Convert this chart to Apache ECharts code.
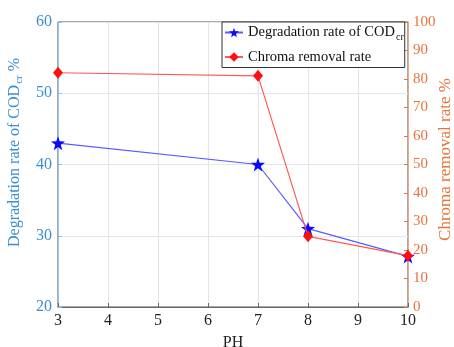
<!DOCTYPE html>
<html>
<head>
<meta charset="utf-8">
<script src="https://cdn.jsdelivr.net/npm/echarts@6/dist/echarts.min.js"></script>
<style>
  html, body { margin: 0; padding: 0; background: #fff; }
  #chart { width: 454px; height: 347px; }
</style>
</head>
<body>
<div id="chart"></div>
<script>
const phValues = [3, 7, 8, 10]
const codRate = [43, 40, 31, 27.1]
const chromaRate = [82.2, 81.1, 24.8, 18]
const xTicks = [3, 4, 5, 6, 7, 8, 9, 10]

const serif = 'Liberation Serif'
const leftColor = '#3b8ed0'
const rightColor = '#e8743b'

const chart = echarts.init(document.getElementById('chart'))

const option = {
  animation: false,
  textStyle: { fontFamily: serif },
  grid: {
    left: 58, right: 46, top: 22, bottom: 40,
    outerBoundsMode: 'none',
    containLabel: false,
    show: true, borderColor: '#555', borderWidth: 1
  },
  legend: {
    orient: 'vertical',
    left: 222, top: 22,
    itemGap: 7,
    itemWidth: 18, itemHeight: 12,
    padding: [3, 1, 3, 2],
    borderColor: '#333', borderWidth: 1,
    backgroundColor: '#fff',
    data: ['cod', 'chroma'],
    formatter: function (name) {
      return name === 'cod'
        ? '{m|Degradation rate of COD}{s|cr}'
        : '{m|Chroma removal rate}'
    },
    textStyle: {
      rich: {
        m: { fontFamily: serif, fontSize: 14.5, color: '#111' },
        s: { fontFamily: serif, fontSize: 10, color: '#111', padding: [10, 0, 0, 1] }
      }
    }
  },
  xAxis: {
    type: 'value',
    min: 3, max: 10, interval: 1,
    name: 'PH',
    nameLocation: 'middle',
    nameGap: 28,
    nameTextStyle: { fontFamily: serif, fontSize: 16, color: '#222' },
    axisLine: { lineStyle: { color: '#666' } },
    axisTick: { inside: true, length: 4, lineStyle: { color: '#666' } },
    axisLabel: {
      fontFamily: serif, fontSize: 16, color: '#222', margin: 6,
      customValues: xTicks
    },
    splitLine: { show: true, lineStyle: { color: '#e4e4e4' } }
  },
  yAxis: [
    {
      type: 'value',
      min: 20, max: 60, interval: 10,
      position: 'left',
      name: '{m|Degradation rate of COD}{s|cr}{m| %}',
      nameLocation: 'middle',
      nameGap: 32,
      nameTextStyle: {
        padding: [0, 0, 0, 24],
        rich: {
          m: { fontFamily: serif, fontSize: 16, color: leftColor },
          s: { fontFamily: serif, fontSize: 11, color: leftColor, padding: [10, 0, 0, 1] }
        }
      },
      axisLine: { show: true, lineStyle: { color: '#8ec2ea' } },
      axisTick: { show: true, inside: true, length: 4, lineStyle: { color: '#8ec2ea' } },
      axisLabel: { fontFamily: serif, fontSize: 16, color: leftColor, margin: 6 },
      splitLine: { show: true, lineStyle: { color: '#dbeaf6' } }
    },
    {
      type: 'value',
      min: 0, max: 100, interval: 10,
      position: 'right',
      name: 'Chroma removal rate %',
      nameLocation: 'middle',
      nameGap: 29,
      nameMoveOverlap: false,
      nameTextStyle: { fontFamily: serif, fontSize: 17, color: rightColor, padding: [0, 0, 0, 10] },
      axisLine: { show: true, lineStyle: { color: '#f0a585' } },
      axisTick: { show: true, inside: true, length: 4, lineStyle: { color: '#e8743b' } },
      axisLabel: { fontFamily: serif, fontSize: 15, color: rightColor, margin: 5 },
      splitLine: { show: false }
    }
  ],
  series: [
    {
      name: 'cod',
      type: 'line',
      yAxisIndex: 0,
      data: phValues.map((x, i) => [x, codRate[i]]),
      symbol: 'path://M0,-10 L2.35,-3.24 L9.51,-3.09 L3.8,1.24 L5.88,8.09 L0,4 L-5.88,8.09 L-3.8,1.24 L-9.51,-3.09 L-2.35,-3.24 Z',
      symbolSize: 14,
      itemStyle: { color: '#0a0aff' },
      lineStyle: { color: '#5a5aff', width: 1.2 },
      z: 3
    },
    {
      name: 'chroma',
      type: 'line',
      yAxisIndex: 1,
      data: phValues.map((x, i) => [x, chromaRate[i]]),
      symbol: 'diamond',
      symbolSize: [10, 12],
      itemStyle: { color: '#ff1010' },
      lineStyle: { color: '#ff5a5a', width: 1.2 },
      z: 4
    }
  ]
}

chart.setOption(option)
</script>
</body>
</html>
